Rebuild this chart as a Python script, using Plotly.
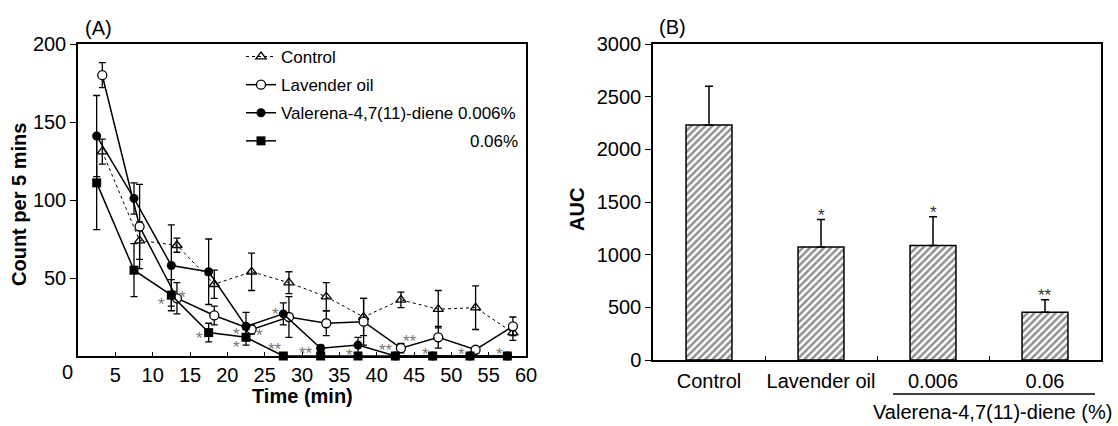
import plotly.graph_objects as go

# ---------------- data: panel A (time course) ----------------
time_min = [2.5, 7.5, 12.5, 17.5, 22.5, 27.5, 32.5, 37.5, 42.5, 47.5, 52.5, 57.5]
control_mean = [131, 74, 71, 46, 54, 47, 38, 25, 36, 30, 31, 15]
control_sem = [8, 12, 4.5, 9, 12, 7, 9, 12, 5, 12, 14, 5]
lavender_mean = [180, 83, 37, 26, 17, 25, 21, 22, 5, 12, 4, 19]
lavender_sem = [8, 27, 10, 6, 3, 13, 8, 15, 3, 7, 2, 6]
val006_mean = [141, 101, 58, 54, 19, 27, 5, 7, 0, 0, 0, 0]
val006_sem = [26, 10, 26, 21, 9, 7, 2, 5, 0, 0, 0, 0]
val06_mean = [111, 55, 39, 15, 12, 0, 0, 0, 0, 0, 0, 0]
val06_sem = [30, 17, 10, 6, 5, 0, 0, 0, 0, 0, 0, 0]

# significance marks in panel A (data coordinates)
sig_x = [11.2, 14.0, 16.3, 21.2, 21.2, 24.3, 26.5, 26.4, 30.6, 36.4, 41.2, 44.4, 46.5, 51.4, 56.4]
sig_y = [35.6, 40.0, 13.7, 16.5, 8.0, 16.0, 29.0, 7.0, 4.3, 3.0, 6.0, 11.6, 3.7, 3.7, 3.7]
sig_text = ["*", "*", "*", "*", "*", "*", "*", "**", "**", "*", "**", "**", "*", "*", "*"]

x_ticks_a = [5, 10, 15, 20, 25, 30, 35, 40, 45, 50, 55, 60]
y_ticks_a = [50, 100, 150, 200]

# ---------------- data: panel B (AUC) ----------------
groups = ["Control", "Lavender oil", "0.006", "0.06"]
auc_mean = [2230, 1073, 1086, 454]
auc_sem = [370, 260, 273, 117]
auc_sig = ["", "*", "*", "**"]
y_ticks_b = [0, 500, 1000, 1500, 2000, 2500, 3000]

# ---------------- style ----------------
FONT = "Liberation Sans, Arial, Helvetica, sans-serif"
W, H = 1118, 426
JIT = 0.75  # horizontal offset of control / lavender points

def px_x(p):
    return p / W

def px_y(p):
    return (H - p) / H

fig = go.Figure()

def err(arr):
    return dict(type="data", array=arr, symmetric=True, color="black",
                thickness=1.3, width=3.5)

fig.add_trace(go.Scatter(
    x=[t + JIT for t in time_min], y=control_mean, error_y=err(control_sem),
    mode="lines+markers", name="Control", legendgroup="g1",
    line=dict(color="black", width=1, dash="3px,3px"),
    marker=dict(symbol="triangle-up-open", size=9, color="black", line=dict(width=1.3)),
    cliponaxis=False, xaxis="x", yaxis="y"))
fig.add_trace(go.Scatter(
    x=[t + JIT for t in time_min], y=lavender_mean, error_y=err(lavender_sem),
    mode="lines+markers", name="Lavender oil", legendgroup="g2",
    line=dict(color="black", width=1.5),
    marker=dict(symbol="circle", size=9, color="white", line=dict(color="black", width=1.3)),
    cliponaxis=False, xaxis="x", yaxis="y"))
fig.add_trace(go.Scatter(
    x=time_min, y=val006_mean, error_y=err(val006_sem),
    mode="lines+markers", name="Valerena-4,7(11)-diene 0.006%", legendgroup="g3",
    line=dict(color="black", width=1.5),
    marker=dict(symbol="circle", size=9, color="black"),
    cliponaxis=False, xaxis="x", yaxis="y"))
fig.add_trace(go.Scatter(
    x=time_min, y=val06_mean, error_y=err(val06_sem),
    mode="lines+markers", name="\u00a0" * 40 + "0.06%", legendgroup="g4",
    line=dict(color="black", width=1.5),
    marker=dict(symbol="square", size=9, color="black"),
    cliponaxis=False, xaxis="x", yaxis="y"))

# panel B bars
fig.add_trace(go.Bar(
    x=groups, y=auc_mean, width=0.41, showlegend=False,
    marker=dict(color="white", line=dict(color="black", width=1.5),
                pattern=dict(shape="/", fgcolor="#222222", bgcolor="white",
                             size=5, solidity=0.5)),
    error_y=dict(type="data", array=auc_sem, arrayminus=[0] * len(auc_sem),
                 symmetric=False, color="black", thickness=1.5, width=4),
    xaxis="x2", yaxis="y2"))

annotations = []
for sx, sy, st in zip(sig_x, sig_y, sig_text):
    annotations.append(dict(x=sx, y=sy, xref="x", yref="y", text=st, showarrow=False,
                            font=dict(family=FONT, size=17, color="#777777"),
                            yanchor="middle", xanchor="center", yshift=-4))
for i, (m, s, t) in enumerate(zip(auc_mean, auc_sem, auc_sig)):
    if t:
        annotations.append(dict(x=i, y=m + s, xref="x2", yref="y2", text=t, showarrow=False,
                                font=dict(family=FONT, size=17, color="#333333"),
                                yanchor="bottom", xanchor="center", yshift=-7))

annotations += [
    # "0" label of the time axis, drawn offset to the left as in the original
    dict(x=0, y=px_y(356), xref="x", yref="paper", text="0", showarrow=False,
         font=dict(family=FONT, size=20, color="black"), xanchor="center", yanchor="top",
         xshift=-11, yshift=-3),
    dict(x=px_x(98), y=px_y(28), xref="paper", yref="paper", text="(A)", showarrow=False,
         font=dict(family=FONT, size=20, color="black"), xanchor="center", yanchor="middle"),
    dict(x=px_x(672), y=px_y(27), xref="paper", yref="paper", text="(B)", showarrow=False,
         font=dict(family=FONT, size=20, color="black"), xanchor="center", yanchor="middle"),
    dict(x=px_x(19), y=px_y(205), xref="paper", yref="paper", text="<b>Count per 5 mins</b>",
         textangle=-90, showarrow=False, font=dict(family=FONT, size=20, color="black"),
         xanchor="center", yanchor="middle"),
    dict(x=px_x(302), y=px_y(396), xref="paper", yref="paper", text="<b>Time (min)</b>",
         showarrow=False, font=dict(family=FONT, size=20, color="black"),
         xanchor="center", yanchor="middle"),
    dict(x=px_x(577), y=px_y(210), xref="paper", yref="paper", text="<b>AUC</b>",
         textangle=-90, showarrow=False, font=dict(family=FONT, size=20, color="black"),
         xanchor="center", yanchor="middle"),
    dict(x=px_x(1114), y=px_y(412), xref="paper", yref="paper",
         text="Valerena-4,7(11)-diene (%)", showarrow=False,
         font=dict(family=FONT, size=20, color="black"), xanchor="right", yanchor="middle"),
]

shapes = [dict(type="line", xref="paper", yref="paper",
               x0=px_x(893), x1=px_x(1095), y0=px_y(394), y1=px_y(394),
               line=dict(color="black", width=1.3))]

axis_common = dict(showline=True, linecolor="black", linewidth=1.5, mirror=True,
                   showgrid=False, zeroline=False, automargin=False,
                   tickfont=dict(family=FONT, size=20, color="black"),
                   tickcolor="black", tickwidth=1.2)

fig.update_layout(
    width=W, height=H, margin=dict(l=0, r=0, t=0, b=0, autoexpand=False),
    paper_bgcolor="white", plot_bgcolor="white",
    font=dict(family=FONT, color="black"),
    xaxis=dict(domain=[px_x(78), px_x(526)], range=[0, 60], anchor="y",
               tickvals=x_ticks_a, ticks="inside", ticklen=4, **axis_common),
    yaxis=dict(domain=[px_y(356), px_y(44)], range=[0, 200], anchor="x",
               tickvals=y_ticks_a, ticks="outside", ticklen=6, **axis_common),
    xaxis2=dict(domain=[px_x(653), px_x(1101)], range=[-0.5, 3.5], anchor="y2",
                type="category", tickson="boundaries", ticks="inside", ticklen=4,
                tickangle=0, ticklabelstandoff=2, **axis_common),
    yaxis2=dict(domain=[px_y(360), px_y(44)], range=[0, 3000], anchor="x2",
                tickvals=y_ticks_b, ticks="outside", ticklen=6, **axis_common),
    legend=dict(x=px_x(241), y=px_y(39), xanchor="left", yanchor="top",
                bgcolor="rgba(0,0,0,0)", font=dict(family=FONT, size=17, color="black"),
                traceorder="grouped", tracegroupgap=3, itemwidth=30),
    annotations=annotations, shapes=shapes, bargap=0.5,
)

fig.write_html("out.html", config={"displayModeBar": False},
               post_script="document.body.style.margin='0';")
